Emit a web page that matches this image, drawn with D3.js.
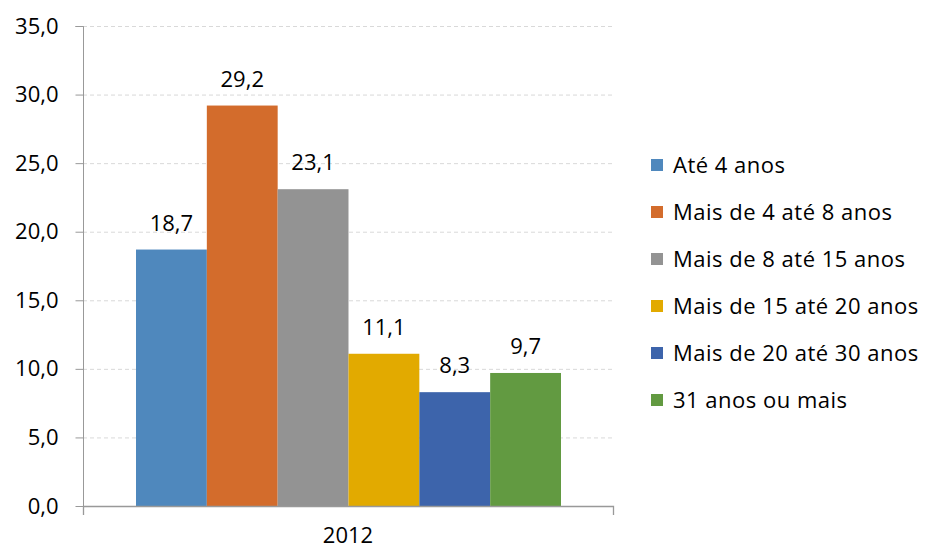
<!DOCTYPE html>
<html lang="pt">
<head>
<meta charset="UTF-8" />
<script src="https://cdnjs.cloudflare.com/ajax/libs/d3/7.8.5/d3.min.js"></script>
<style>
body { margin: 0; background: #fff; }
svg text { font-family: "Open Sans", sans-serif; fill: #000; }
</style>
</head>
<body>
<svg id="chart" width="925" height="549"></svg>
<script>
const groups = ['2012'];
const series = ['Até 4 anos', 'Mais de 4 até 8 anos', 'Mais de 8 até 15 anos',
  'Mais de 15 até 20 anos', 'Mais de 20 até 30 anos', '31 anos ou mais'];
const values = [18.7, 29.2, 23.1, 11.1, 8.3, 9.7];
const colors = ['#4f88bd', '#d36c2c', '#939393', '#e2aa00', '#3d64ab', '#629a41'];
const yTicks = [0, 5, 10, 15, 20, 25, 30, 35];

const fmt = v => d3.format('.1f')(v).replace('.', ',');
const svg = d3.select('#chart');
const fs = 22;

const plotL = 83, plotR = 613, plotT = 26, plotB = 506;

const x1 = d3.scaleBand().domain(series).range([136, 561]);
const y = d3.scaleLinear().domain([0, 35]).range([plotB, plotT]);

// grid
svg.append('g').selectAll('line').data(yTicks.slice(1)).join('line')
  .attr('x1', plotL).attr('x2', plotR)
  .attr('y1', d => y(d) + 0.5).attr('y2', d => y(d) + 0.5)
  .attr('stroke', '#d9d9d9').attr('stroke-dasharray', '4,3');

// bars
svg.append('g').selectAll('rect').data(values).join('rect')
  .attr('x', (d, i) => x1(series[i]))
  .attr('width', x1.bandwidth())
  .attr('y', d => y(d))
  .attr('height', d => y(0) - y(d))
  .attr('fill', (d, i) => colors[i]);

// value labels
svg.append('g').selectAll('text').data(values).join('text')
  .attr('x', (d, i) => x1(series[i]) + x1.bandwidth() / 2)
  .attr('y', d => y(d) - 19)
  .attr('text-anchor', 'middle')
  .attr('font-size', fs)
  .text(fmt);

// y axis
const yAxis = svg.append('g').attr('transform', `translate(${plotL + 0.5},0)`)
  .call(d3.axisLeft(y).tickValues(yTicks).tickSize(8).tickPadding(17).tickFormat(fmt));
yAxis.select('.domain').attr('stroke', '#999').attr('d', `M-8,${plotT + 0.5}H0V${plotB + 0.5}`);
yAxis.selectAll('.tick line').attr('stroke', '#999');
yAxis.selectAll('.tick text').attr('font-size', fs).attr('font-family', '"Open Sans", sans-serif');

// x axis
const xg = svg.append('g');
xg.append('path')
  .attr('d', `M${plotL + 0.5},${plotB + 9}V${plotB + 0.5}H${plotR + 0.5}V${plotB + 9}`)
  .attr('fill', 'none').attr('stroke', '#999').attr('stroke-width', 1.3);
xg.selectAll('text').data(groups).join('text')
  .attr('x', plotL + (plotR - plotL) / 2)
  .attr('y', 543)
  .attr('text-anchor', 'middle')
  .attr('font-size', fs)
  .text(d => d);

// legend
const leg = svg.append('g').selectAll('g').data(series).join('g')
  .attr('transform', (d, i) => `translate(651,${165 + i * 47})`);
leg.append('rect').attr('x', 0).attr('y', -6).attr('width', 12).attr('height', 12)
  .attr('fill', (d, i) => colors[i]);
leg.append('text').attr('x', 22).attr('y', 0).attr('dy', '0.35em')
  .attr('font-size', fs).attr('letter-spacing', 0.5).text(d => d);
</script>
</body>
</html>
